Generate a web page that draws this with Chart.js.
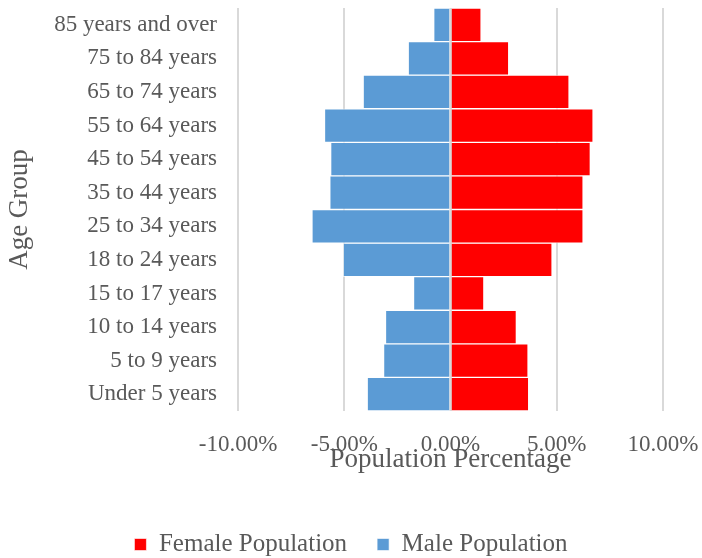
<!DOCTYPE html>
<html>
<head>
<meta charset="utf-8">
<script src="https://cdn.jsdelivr.net/npm/chart.js@4"></script>
<style>
  html, body { margin: 0; padding: 0; background: #fff; }
  #wrap { width: 702px; height: 558px; }
</style>
</head>
<body>
<div id="wrap"><canvas id="pyramid"></canvas></div>
<script>
// --- Data (bottom to top, like the source table) ---
const ageGroups = [
  'Under 5 years', '5 to 9 years', '10 to 14 years', '15 to 17 years',
  '18 to 24 years', '25 to 34 years', '35 to 44 years', '45 to 54 years',
  '55 to 64 years', '65 to 74 years', '75 to 84 years', '85 years and over'
];
const femaleValues = [3.68, 3.65, 3.10, 1.57, 4.78, 6.24, 6.24, 6.58, 6.71, 5.58, 2.74, 1.44];
const maleValues = [-3.92, -3.15, -3.06, -1.74, -5.05, -6.52, -5.68, -5.64, -5.93, -4.11, -1.99, -0.79];
const seriesNames = ['Female Population', 'Male Population'];

// --- Style ---
const FONT = "'Liberation Serif', 'Times New Roman', serif";
const TEXT_COLOR = '#595959';
const GRID_COLOR = '#d9d9d9';

// zero line sits on top of the bars, like the Excel axis
const zeroLinePlugin = {
  id: 'zeroLine',
  afterDatasetsDraw(chart) {
    const { ctx, chartArea, scales } = chart;
    const x = scales.x.getPixelForValue(0);
    ctx.save();
    ctx.strokeStyle = GRID_COLOR;
    ctx.lineWidth = 2;
    ctx.beginPath();
    ctx.moveTo(x, chartArea.top);
    ctx.lineTo(x, chartArea.bottom);
    ctx.stroke();
    ctx.restore();
  }
};

new Chart(document.getElementById('pyramid'), {
  type: 'bar',
  data: {
    labels: ageGroups,
    datasets: [
      {
        label: seriesNames[0],
        data: femaleValues,
        backgroundColor: '#ff0000',
        borderColor: 'rgba(255,255,255,0.6)',
        borderWidth: 1
      },
      {
        label: seriesNames[1],
        data: maleValues,
        backgroundColor: '#5b9bd5',
        borderColor: 'rgba(255,255,255,0.6)',
        borderWidth: 1
      }
    ]
  },
  options: {
    indexAxis: 'y',
    responsive: true,
    maintainAspectRatio: false,
    animation: false,
    barPercentage: 1,
    categoryPercentage: 1,
    layout: { padding: { top: 8, right: 0, bottom: -9, left: 0 } },
    scales: {
      x: {
        stacked: true,
        min: -10,
        max: 10,
        ticks: {
          stepSize: 5,
          color: TEXT_COLOR,
          font: { family: FONT, size: 23 },
          padding: 20,
          callback: v => v.toFixed(2) + '%'
        },
        grid: { color: GRID_COLOR, lineWidth: 2, drawTicks: false },
        border: { display: false },
        title: {
          display: true,
          text: 'Population Percentage',
          color: TEXT_COLOR,
          font: { family: FONT, size: 27 },
          padding: { top: 0, bottom: 26 }
        },
        afterFit(scale) {
          scale.height = 91;
          scale.paddingLeft = 0;
          scale.paddingRight = 39;
        }
      },
      y: {
        stacked: true,
        reverse: true,
        ticks: {
          color: TEXT_COLOR,
          font: { family: FONT, size: 23 },
          padding: 2
        },
        grid: { display: false, drawTicks: true, tickLength: 19 },
        border: { display: false },
        title: {
          display: true,
          text: 'Age Group',
          color: TEXT_COLOR,
          font: { family: FONT, size: 27 },
          padding: { top: 4, bottom: 0 }
        },
        afterFit(scale) {
          scale.width = 238;
          scale.paddingTop = 0;
          scale.paddingBottom = 0;
        }
      }
    },
    plugins: {
      legend: {
        position: 'bottom',
        labels: {
          color: TEXT_COLOR,
          font: { family: FONT, size: 25 },
          boxWidth: 12,
          boxHeight: 12,
          padding: 30
        }
      },
      tooltip: { enabled: false }
    }
  },
  plugins: [zeroLinePlugin]
});
</script>
</body>
</html>
